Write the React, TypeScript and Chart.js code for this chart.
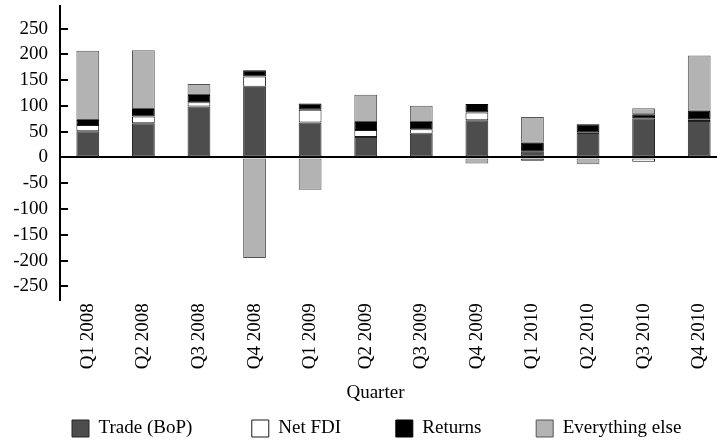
import React, { useEffect, useRef } from 'react';
import { Chart, registerables } from 'chart.js';

Chart.register(...registerables);

const quarters = [
  'Q1 2008', 'Q2 2008', 'Q3 2008', 'Q4 2008',
  'Q1 2009', 'Q2 2009', 'Q3 2009', 'Q4 2009',
  'Q1 2010', 'Q2 2010', 'Q3 2010', 'Q4 2010',
];
const trade = [51, 66.5, 99, 137.5, 67.7, 39.7, 46.2, 72.4, 11, 47.5, 76.3, 71];
const netFdi = [12, 13, 8, 19.6, 24.8, 13.7, 8.6, 14.8, -6.5, 1.5, -8.5, 3];
const returns = [10, 14.5, 14.5, 12, 12.4, 15.6, 14.2, 16.5, 17.6, 15.5, 7.8, 16.5];
const everythingElse = [134, 114, 21.3, -195, -62.6, 52.8, 31.4, -11.7, 50, -13, 11.7, 107.6];
const yTickValues = [-250, -200, -150, -100, -50, 0, 50, 100, 150, 200, 250];
const seriesNames = ['Trade (BoP)', 'Net FDI', 'Returns', 'Everything else'];
const xAxisTitle = 'Quarter';
// trailing spaces that widen each legend entry (spacing between entries)
const legendTrailingSpaces = [10, 9, 9, 2];

const FONT = '"Liberation Serif", "Times New Roman", serif';

export default function App() {
  const ref = useRef<HTMLCanvasElement | null>(null);

  useEffect(() => {
    if (!ref.current) return;
    Chart.defaults.font.family = FONT;
    Chart.defaults.font.size = 19;
    Chart.defaults.color = '#000';

    const chart = new Chart(ref.current, {
      type: 'bar',
      data: {
        labels: quarters,
        datasets: [
          { label: seriesNames[0], data: trade, backgroundColor: '#4d4d4d', borderColor: '#262626' },
          { label: seriesNames[1], data: netFdi, backgroundColor: '#ffffff', borderColor: '#1a1a1a' },
          { label: seriesNames[2], data: returns, backgroundColor: '#000000', borderColor: '#000000' },
          { label: seriesNames[3], data: everythingElse, backgroundColor: '#b3b3b3', borderColor: '#555555' },
        ].map((d) => ({
          ...d,
          borderWidth: 1,
          borderSkipped: false as const,
          barPercentage: 0.41,
          categoryPercentage: 1,
        })),
      },
      options: {
        animation: false,
        responsive: false,
        maintainAspectRatio: false,
        layout: { padding: { left: 8, right: 0, top: 6, bottom: 0 } },
        scales: {
          x: {
            stacked: true,
            grid: { display: false, drawTicks: false },
            border: { display: false },
            ticks: {
              minRotation: 90,
              maxRotation: 90,
              padding: 3,
              font: { size: 19, family: FONT },
              color: '#000',
            },
          },
          y: {
            stacked: true,
            min: -277,
            max: 294,
            z: 1,
            afterBuildTicks: (scale: any) => {
              scale.ticks = yTickValues.map((v) => ({ value: v }));
            },
            afterFit: (scale: any) => {
              scale.width = 52;
              scale.paddingTop = 0;
              scale.paddingBottom = 0;
            },
            grid: {
              color: (ctx: any) => (ctx.tick && ctx.tick.value === 0 ? '#000' : 'rgba(0,0,0,0)'),
              lineWidth: 2,
              drawTicks: true,
              tickLength: -8,
              tickColor: '#000',
              tickWidth: 2,
            },
            border: { display: true, color: '#000', width: 2 },
            ticks: {
              padding: 20,
              font: { size: 19, family: FONT },
              color: '#000',
            },
          },
        },
        plugins: {
          tooltip: { enabled: false },
          title: { display: false },
          legend: {
            display: true,
            position: 'bottom',
            align: 'start',
            fullSize: false,
            title: {
              display: true,
              text: xAxisTitle,
              position: 'center',
              padding: { top: 11, bottom: 1 },
              font: { size: 19, family: FONT, weight: 'normal' },
              color: '#000',
            },
            labels: {
              boxWidth: 17,
              boxHeight: 17,
              padding: 12,
              font: { size: 19, family: FONT },
              color: '#000',
              generateLabels: (c: any) => {
                const items = Chart.defaults.plugins.legend.labels.generateLabels(c);
                return items.map((it: any, i: number) => ({
                  ...it,
                  text: it.text + ' '.repeat(legendTrailingSpaces[i] || 0),
                  lineWidth: 1,
                }));
              },
            },
          },
        },
      },
    });
    return () => chart.destroy();
  }, []);

  return (
    <div
      style={{
        position: 'fixed',
        left: 0,
        top: 0,
        width: 717,
        height: 441,
        overflow: 'hidden',
        background: '#fff',
      }}
    >
      <canvas ref={ref} width={727} height={448} style={{ display: 'block', width: 727, height: 448 }} />
    </div>
  );
}
